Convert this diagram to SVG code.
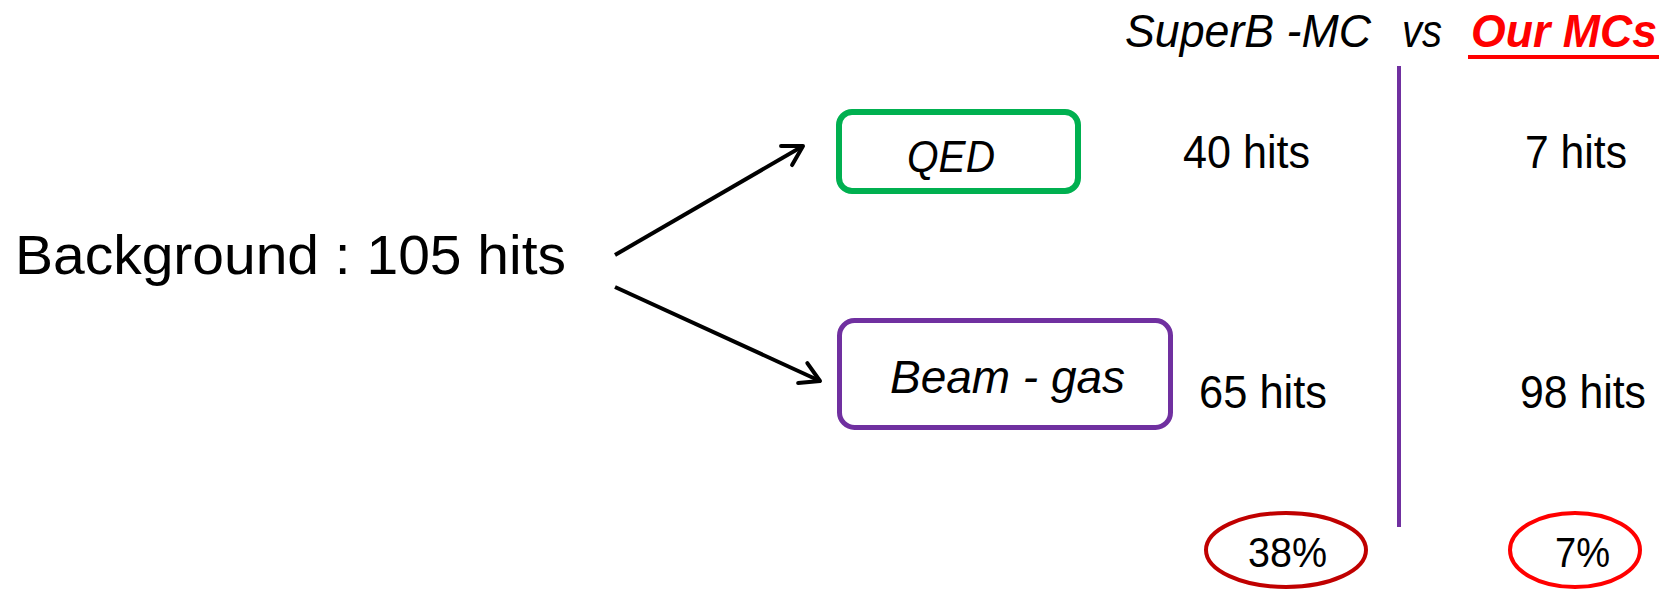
<svg xmlns="http://www.w3.org/2000/svg" width="1671" height="590" viewBox="0 0 1671 590">
<style>
text{font-family:"Liberation Sans",Arial,sans-serif;fill:#000}
.it{font-style:italic}
.hits{font-size:46px}
.conn{stroke:#000;stroke-width:4;fill:none}
</style>
<defs>
<marker id="arr" markerUnits="userSpaceOnUse" markerWidth="30" markerHeight="30" viewBox="-22 -15 26 30" refX="0" refY="0" orient="auto">
<path d="M-19,-11 L0,0 L-19,11" fill="none" stroke="#000" stroke-width="4" stroke-linecap="round" stroke-linejoin="round"/>
</marker>
</defs>
<rect width="1671" height="590" fill="#fff"/>
<g id="header">
<text class="it" x="1125" y="47" font-size="47" textLength="246" lengthAdjust="spacingAndGlyphs">SuperB -MC</text>
<text class="it" x="1402" y="47" font-size="47" textLength="40" lengthAdjust="spacingAndGlyphs">vs</text>
<text class="it" x="1471" y="47" font-size="47" font-weight="bold" style="fill:#FF0000" textLength="186" lengthAdjust="spacingAndGlyphs">Our MCs</text>
<rect x="1468" y="55" width="191" height="4" fill="#FF0000"/>
</g>
<g id="divider">
<line x1="1399" y1="66" x2="1399" y2="527" stroke="#7030A0" stroke-width="4"/>
</g>
<g id="background">
<text x="15" y="274" font-size="55" textLength="551" lengthAdjust="spacingAndGlyphs">Background : 105 hits</text>
</g>
<g id="qed">
<rect x="839" y="112" width="239" height="79" rx="13" fill="#fff" stroke="#00B050" stroke-width="6"/>
<text class="it" x="907" y="172" font-size="45" textLength="88" lengthAdjust="spacingAndGlyphs">QED</text>
</g>
<g id="beamgas">
<rect x="839.5" y="320.5" width="331" height="107" rx="15" fill="#fff" stroke="#7030A0" stroke-width="5"/>
<text class="it" x="890" y="393" font-size="46" textLength="235" lengthAdjust="spacingAndGlyphs">Beam - gas</text>
</g>
<g id="counts">
<text class="hits" x="1183" y="168" textLength="127" lengthAdjust="spacingAndGlyphs">40 hits</text>
<text class="hits" x="1525" y="168" textLength="102" lengthAdjust="spacingAndGlyphs">7 hits</text>
<text class="hits" x="1199" y="408" textLength="128" lengthAdjust="spacingAndGlyphs">65 hits</text>
<text class="hits" x="1520" y="408" textLength="126" lengthAdjust="spacingAndGlyphs">98 hits</text>
</g>
<g id="pct-superb">
<ellipse cx="1286" cy="550" rx="80" ry="37" fill="none" stroke="#C00000" stroke-width="4"/>
<text x="1248" y="567" font-size="42" textLength="79" lengthAdjust="spacingAndGlyphs">38%</text>
</g>
<g id="pct-ours">
<ellipse cx="1575" cy="550" rx="65" ry="37" fill="none" stroke="#FF0000" stroke-width="4"/>
<text x="1555" y="567" font-size="42" textLength="55" lengthAdjust="spacingAndGlyphs">7%</text>
</g>
<g id="connectors">
<line class="conn" x1="615" y1="255" x2="803" y2="146" marker-end="url(#arr)"/>
<line class="conn" x1="615" y1="287" x2="820" y2="381" marker-end="url(#arr)"/>
</g>
</svg>
